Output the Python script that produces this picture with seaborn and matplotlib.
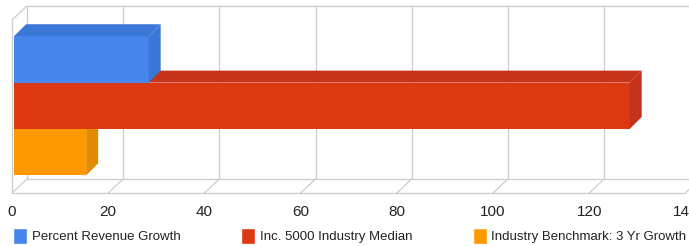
import pandas as pd
import matplotlib
matplotlib.use("Agg")
import matplotlib.pyplot as plt
from matplotlib.patches import Polygon
from matplotlib.transforms import ScaledTranslation
import seaborn as sns

# data
series = ["Percent Revenue Growth", "Inc. 5000 Industry Median", "Industry Benchmark: 3 Yr Growth"]
values = [28, 128, 15]
ticks = [0, 20, 40, 60, 80, 100, 120, 140]

front_colors = ["#4786ec", "#dc3912", "#ff9900"]
side_colors = ["#3a77d7", "#c5331a", "#e38b00"]
grid = "#cccccc"

df = pd.DataFrame({"series": series, "value": values})

sns.set_style("white")
plt.rcParams["font.family"] = ["Liberation Sans", "DejaVu Sans"]

DPI = 100
fig = plt.figure(figsize=(6.89, 2.46), dpi=DPI)
ax = fig.add_axes([12 / 689, 53 / 246, 673.4 / 689, 173 / 246])

sns.barplot(data=df, x="value", y="series", hue="series", palette=front_colors,
            orient="h", width=1.0, saturation=1, legend=True, ax=ax)

ytop, ybot = -0.85, 2.88
ax.set_xlim(0, 140)
ax.set_ylim(ybot, ytop)
ax.set_xticks(ticks)
ax.set_yticks([])
ax.set(xlabel="", ylabel="")
for s in ax.spines.values():
    s.set_visible(False)
ax.tick_params(axis="x", length=0, pad=9, labelsize=11, labelcolor="#222222")

# pixel -> data unit helpers
p0 = ax.transData.transform((0, 0))
p1 = ax.transData.transform((1, 1))
sx = abs(p1[0] - p0[0])
sy = abs(p1[1] - p0[1])

# 3d frame (back wall + floor)
fdx, fdy = 15 / sx, 14 / sy
kw = dict(color=grid, lw=0.9, clip_on=False, zorder=0)
for t in ticks:
    ax.plot([t + fdx, t + fdx], [ybot - fdy, ytop - fdy], **kw)
    ax.plot([t, t + fdx], [ybot, ybot - fdy], **kw)
ax.plot([fdx, 140 + fdx], [ytop - fdy, ytop - fdy], **kw)
ax.plot([fdx, 140 + fdx], [ybot - fdy, ybot - fdy], **kw)
ax.plot([0, 140], [ybot, ybot], **kw)
ax.plot([0, 0], [ybot, ytop], **kw)
ax.plot([0, fdx], [ytop, ytop - fdy], **kw)

# 3d bars: top and side faces
bdx, bdy = 12 / sx, 12 / sy
shift = ScaledTranslation(2 / DPI, 0, fig.dpi_scale_trans)
for p in list(ax.patches):
    i = int(round(p.get_y() + p.get_height() / 2))
    z = 5 - i
    p.set_transform(ax.transData + shift)
    p.set_zorder(z)
    p.set_edgecolor("none")
    x0, x1 = p.get_x(), p.get_x() + p.get_width()
    y0, y1 = p.get_y(), p.get_y() + p.get_height()
    top = Polygon([(x0, y0), (x1, y0), (x1 + bdx, y0 - bdy), (x0 + bdx, y0 - bdy)],
                  closed=True, facecolor=side_colors[i], edgecolor="none",
                  transform=ax.transData + shift, zorder=z, clip_on=False)
    side = Polygon([(x1, y0), (x1 + bdx, y0 - bdy), (x1 + bdx, y1 - bdy), (x1, y1)],
                   closed=True, facecolor=side_colors[i], edgecolor="none",
                   transform=ax.transData + shift, zorder=z, clip_on=False)
    ax.add_patch(top)
    ax.add_patch(side)
    p.set_clip_on(False)

sns.move_legend(ax, "center left", bbox_to_anchor=(13 / 689, 10 / 246),
                bbox_transform=fig.transFigure, ncol=3, frameon=False, title=None,
                fontsize=9.5, handlelength=1.05, handleheight=1.45, handletextpad=0.36,
                columnspacing=4.6, borderpad=0, borderaxespad=0)
for txt in ax.get_legend().get_texts():
    txt.set_color("#222222")

fig.savefig("out.png", dpi=DPI, facecolor="white")
